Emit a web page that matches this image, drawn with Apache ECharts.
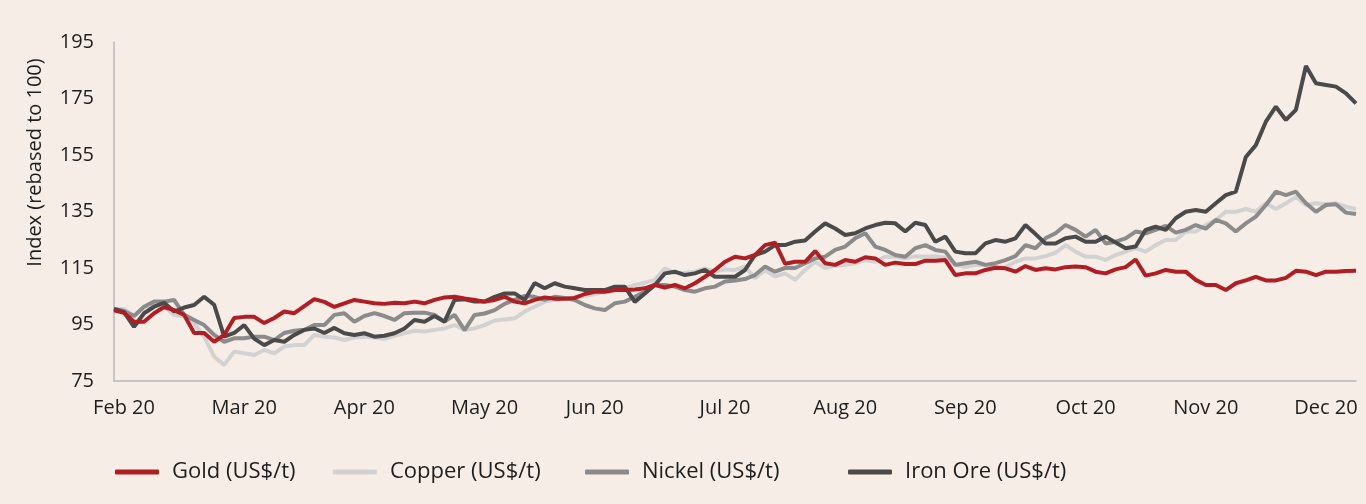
<!DOCTYPE html>
<html>
<head>
    <meta charset="UTF-8">
    <title>Metals index 2020</title>
    <script src="https://cdn.jsdelivr.net/npm/echarts@6/dist/echarts.min.js"></script>
    <style>
        body, html {
            margin: 0;
            padding: 0;
            width: 100%;
            height: 100%;
            background: #f6ede7;
        }

        #chart {
            width: 1366px;
            height: 504px;
        }
    </style>
</head>
<body>
<div id="chart"></div>
<script>
    // month labels and the point index where each one sits
    var monthLabels = ['Feb 20', 'Mar 20', 'Apr 20', 'May 20', 'Jun 20', 'Jul 20', 'Aug 20', 'Sep 20', 'Oct 20', 'Nov 20', 'Dec 20'];
    var monthIdx = [1, 13, 25, 37, 48, 61, 73, 85, 97, 109, 121];

    var yTicks = [75, 95, 115, 135, 155, 175, 195];

    var gold = [100, 99.1, 96, 96, 99, 101.2, 100.1, 98.4, 92, 92, 88.9, 91.3, 97.3, 97.7, 97.7, 95.5, 97.3, 99.6, 99, 101.5,
        104, 103, 101.2, 102.5, 103.7, 103.1, 102.5, 102.3, 102.7, 102.5, 103.1, 102.5, 103.7, 104.6, 104.8, 104.2, 103.7, 103.1, 103.7, 104.8,
        103.1, 102.5, 103.7, 104.6, 104.1, 104.1, 104.4, 105.8, 106.6, 106.6, 107.2, 107.2, 107.4, 107.8, 109, 108.1, 109, 107.8, 109.6, 111.9,
        114.3, 117.2, 119, 118.4, 119.6, 123.1, 124, 116.5, 117.2, 117.2, 121, 116.7, 116.1, 117.8, 117.2, 118.8, 118.4, 116.1, 116.9, 116.4,
        116.4, 117.6, 117.6, 117.8, 112.5, 113.1, 113.1, 114.3, 115.1, 114.9, 113.7, 115.7, 114.3, 114.9, 114.5, 115.3, 115.5, 115.3, 113.7, 113.1,
        114.5, 115.3, 118, 112.3, 113.1, 114.3, 113.7, 113.7, 110.8, 109, 109, 107.2, 109.6, 110.6, 111.9, 110.6, 110.6, 111.5, 114, 113.7,
        112.5, 113.7, 113.7, 113.9, 114];

    var copper = [100.5, 100.5, 98, 101.3, 101.8, 101.3, 98.4, 97.7, 95.5, 90.7, 83.6, 80.7, 85.4, 84.8, 84.2, 86, 84.8, 87.2, 87.7, 87.7,
        91.3, 90.7, 90.4, 89.5, 90.4, 90.7, 90.4, 89.9, 91, 91.9, 92.8, 92.5, 93.1, 93.6, 94.8, 93.1, 93.6, 94.8, 96.4, 96.8,
        97.2, 99.6, 101.3, 103.1, 103.7, 104.1, 104.6, 105.1, 105.8, 106.6, 107, 107.8, 109, 109.8, 110.8, 114.9, 113.2, 113.2, 113.7, 114.9,
        113.7, 114.5, 114.3, 115.5, 111.4, 114.3, 112, 113.1, 110.8, 114.3, 117.2, 115, 115.8, 116.1, 116.7, 117.8, 117.2, 119, 119, 118.4,
        119.2, 119, 119.2, 118.6, 116.1, 115.3, 116.1, 116.1, 115.3, 115.3, 117.2, 118.4, 118.4, 119.2, 120.4, 123.1, 120.8, 119, 119, 117.8,
        119.6, 120.8, 122, 120.8, 123.1, 124.9, 124.9, 127.9, 127.9, 130.2, 132, 134.9, 134.9, 135.9, 134.9, 137.9, 135.9, 137.9, 140.2, 137.3,
        137.9, 137.6, 137.9, 136.7, 135.9];

    var nickel = [100.5, 99.8, 98, 101.3, 103.1, 103.1, 103.7, 98.4, 96.6, 94.8, 91.3, 88.9, 90.1, 90.1, 90.7, 90.7, 89.5, 92, 92.8, 93.1,
        94.8, 94.8, 98.4, 99, 96, 98, 99, 98, 96.6, 99, 99.2, 99.2, 98.4, 96, 98.4, 93, 98.4, 98.9, 100.1, 102.3,
        103.7, 105.1, 104.8, 103.7, 104.8, 104.4, 103.7, 101.9, 100.7, 100.1, 102.5, 103.1, 104.8, 106.6, 109, 109, 108.4, 107.2, 106.6, 107.8,
        108.4, 110.2, 110.6, 111.1, 112.5, 115.5, 113.7, 115, 115, 116.7, 118.4, 119, 121.4, 122.6, 125.5, 127.3, 122.6, 121.4, 119.6, 119,
        122, 123.1, 121.4, 120.8, 116.1, 116.7, 117.2, 116.1, 116.7, 117.8, 119.2, 123.1, 122, 125.5, 127.3, 130.2, 128.5, 126.1, 128.5, 123.7,
        124.3, 125.5, 127.9, 127.3, 128.5, 129.9, 127.5, 128.5, 130.2, 128.9, 132, 130.8, 127.9, 130.8, 133.2, 137.3, 142, 140.8, 142, 137.9,
        134.9, 137.3, 137.6, 134.6, 134.1];

    var ironOre = [100.5, 99.4, 94.2, 99, 101.3, 102.7, 99.6, 101, 101.9, 104.8, 102, 90.7, 92, 94.8, 90, 87.7, 89.5, 88.9, 91.3, 93.1,
        93.6, 92, 93.8, 91.9, 91.3, 91.9, 90.7, 91, 91.9, 93.6, 96.6, 96, 98, 96, 103.7, 103.9, 103.1, 103.1, 104.8, 106,
        106, 103.7, 109.7, 107.8, 109.6, 108.4, 107.8, 107.2, 107.2, 107.2, 108.4, 108.4, 103, 106, 109, 113.1, 113.7, 112.5, 113.1, 114.3,
        111.9, 111.9, 111.9, 114.3, 119.6, 120.8, 123.1, 123.1, 124.3, 124.7, 127.9, 130.8, 129, 126.7, 127.3, 129, 130.2, 131, 130.8, 127.9,
        131, 130.2, 124.3, 126.1, 120.8, 120.2, 120.2, 123.7, 124.9, 124.3, 125.5, 130.2, 127, 123.7, 123.7, 125.5, 126.1, 124.3, 124.3, 126.1,
        124, 122, 122.6, 128.5, 129.6, 128.5, 132.6, 134.9, 135.5, 134.9, 137.9, 140.8, 142, 154.3, 158.5, 166.8, 172.1, 167.4, 171, 186.5,
        180.4, 179.8, 179.2, 176.8, 173.3];

    var seriesNames = ['Gold (US$/t)', 'Copper (US$/t)', 'Nickel (US$/t)', 'Iron Ore (US$/t)'];
    var seriesColors = ['#b01e24', '#d2d2d2', '#8b8b8b', '#4a4a4a'];
    var legendLeft = [115, 333, 585, 848];

    var categories = [];
    for (var i = 0; i < gold.length; i++) {
        var k = monthIdx.indexOf(i);
        categories.push(k >= 0 ? monthLabels[k] : '');
    }

    var fontFam = '"Open Sans", "Noto Sans", sans-serif';
    var textCol = '#1e1e1e';

    var legends = seriesNames.map(function (name, j) {
        return {
            data: [name],
            left: legendLeft[j],
            top: 461,
            padding: 0,
            icon: 'roundRect',
            itemWidth: 44,
            itemHeight: 5,
            textStyle: {color: textCol, fontSize: 22, fontFamily: fontFam, padding: [0, 0, 0, 8]}
        };
    });

    var dataSets = [gold, copper, nickel, ironOre];
    var series = dataSets.map(function (d, j) {
        return {
            name: seriesNames[j],
            type: 'line',
            data: d,
            symbol: 'none',
            z: j === 0 ? 5 : 2,
            lineStyle: {width: 4, color: seriesColors[j]},
            itemStyle: {color: seriesColors[j]}
        };
    });

    var echart = echarts.init(document.getElementById('chart'));
    echart.setOption({
        backgroundColor: '#f6ede7',
        animation: false,
        grid: {left: 114, right: 10, top: 42, bottom: 123},
        legend: legends,
        xAxis: {
            type: 'category',
            data: categories,
            boundaryGap: false,
            axisLine: {lineStyle: {color: '#b8b8b8', width: 1.5}},
            axisTick: {show: false},
            axisLabel: {interval: 0, color: textCol, fontSize: 20, fontFamily: fontFam, margin: 17}
        },
        yAxis: {
            type: 'value',
            min: yTicks[0],
            max: yTicks[yTicks.length - 1],
            interval: 20,
            name: 'Index (rebased to 100)',
            nameLocation: 'middle',
            nameGap: 69,
            nameTextStyle: {color: textCol, fontSize: 20, fontFamily: fontFam, padding: [0, 0, 0, 98]},
            axisLine: {show: true, lineStyle: {color: '#b8b8b8', width: 1.5}},
            axisTick: {show: false},
            splitLine: {show: false},
            axisLabel: {color: textCol, fontSize: 20, fontFamily: fontFam, margin: 20}
        },
        series: series
    });
</script>
</body>
</html>
